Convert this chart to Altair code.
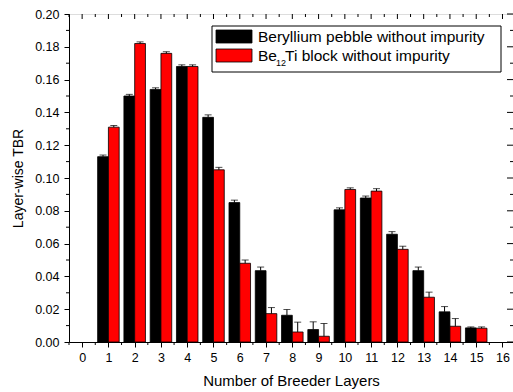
import altair as alt
import pandas as pd

# Layer-wise tritium breeding ratio per breeder layer
layers = list(range(1, 16))
pebble_tbr = [0.113, 0.150, 0.154, 0.168, 0.137, 0.085, 0.0435, 0.0163, 0.0076,
              0.0806, 0.0878, 0.0657, 0.0435, 0.0184, 0.0086]
pebble_err = [0.0010, 0.0010, 0.0010, 0.0010, 0.0015, 0.0015, 0.0022, 0.0035, 0.0047,
              0.0012, 0.0012, 0.0016, 0.0022, 0.0032, 0.0006]
block_tbr = [0.131, 0.182, 0.176, 0.168, 0.105, 0.048, 0.0173, 0.0061, 0.0035,
             0.093, 0.092, 0.0565, 0.0273, 0.0096, 0.0084]
block_err = [0.0010, 0.0010, 0.0010, 0.0010, 0.0015, 0.0020, 0.0037, 0.0060, 0.0078,
             0.0010, 0.0015, 0.0019, 0.0031, 0.0047, 0.0008]

x_ticks = list(range(0, 17))
y_ticks = [0.00, 0.02, 0.04, 0.06, 0.08, 0.10, 0.12, 0.14, 0.16, 0.18, 0.20]
x_minor = [i + 0.5 for i in range(-1, 16)]
y_minor = [round(0.01 + 0.02 * i, 2) for i in range(10)]

legend_pebble = "Beryllium pebble without impurity"
legend_block = ["Be", "12", "Ti block without impurity"]

FONT = "Liberation Sans"
BAR_W = 0.41
W, H = 444, 328

x_scale = alt.Scale(domain=[-0.5, 16.4], nice=False, zero=False)
y_scale = alt.Scale(domain=[0, 0.2], nice=False)

x_axis = alt.Axis(values=x_ticks, format="d", tickSize=5, labelFontSize=12.5,
                  labelPadding=4, labelOverlap=False,
                  title="Number of Breeder Layers", titleFontSize=15,
                  titleFontWeight="normal", titlePadding=10, grid=False,
                  labelFont=FONT, titleFont=FONT, labelColor="black",
                  titleColor="black", domainColor="black", tickColor="black",
                  labelFlush=False)
y_axis = alt.Axis(values=y_ticks, format=".2f", tickSize=5, labelFontSize=12.5,
                  labelPadding=5, labelOverlap=False,
                  title="Layer-wise TBR", titleFontSize=14,
                  titleFontWeight="normal", titlePadding=9, grid=False,
                  labelFont=FONT, titleFont=FONT, labelColor="black",
                  titleColor="black", domainColor="black", tickColor="black",
                  labelFlush=False)


def X(field):
    return alt.X(field, scale=x_scale, axis=x_axis)


def Y(field):
    return alt.Y(field, scale=y_scale, axis=y_axis)


pebble_df = pd.DataFrame({"layer": layers, "tbr": pebble_tbr, "err": pebble_err})
block_df = pd.DataFrame({"layer": layers, "tbr": block_tbr, "err": block_err})


def series_layers(df, color, left):
    base = alt.Chart(df)
    if left:
        base = base.transform_calculate(x0=f"datum.layer - {BAR_W}", x1="datum.layer")
    else:
        base = base.transform_calculate(x0="datum.layer", x1=f"datum.layer + {BAR_W}")
    base = base.transform_calculate(xc="(datum.x0 + datum.x1) / 2",
                                    top="datum.tbr + datum.err")
    bars = base.mark_bar(color=color, stroke="black", strokeWidth=0.8).encode(
        x=X("x0:Q"), x2="x1:Q", y=Y("tbr:Q"), y2=alt.datum(0))
    whisker = base.mark_rule(color="black", strokeWidth=1).encode(
        x=X("xc:Q"), y=Y("tbr:Q"), y2="top:Q")
    cap = base.mark_tick(orient="horizontal", color="black", size=7,
                         thickness=1).encode(x=X("xc:Q"), y=Y("top:Q"))
    return [bars, whisker, cap]


# Axis decorations: minor ticks outside, mirrored ticks inside on top/right
xt = pd.DataFrame({"v": x_ticks})
xm = pd.DataFrame({"v": x_minor})
yt = pd.DataFrame({"v": y_ticks})
ym = pd.DataFrame({"v": y_minor})

tick_style = dict(color="black", strokeWidth=1)
deco = [
    alt.Chart(xm).mark_rule(**tick_style).encode(
        x=X("v:Q"), y=alt.value(H), y2=alt.value(H + 3)),
    alt.Chart(ym).mark_rule(**tick_style).encode(
        y=Y("v:Q"), x=alt.value(0), x2=alt.value(-3)),
    alt.Chart(xt).mark_rule(**tick_style).encode(
        x=X("v:Q"), y=alt.value(0), y2=alt.value(5)),
    alt.Chart(xm).mark_rule(**tick_style).encode(
        x=X("v:Q"), y=alt.value(0), y2=alt.value(3)),
    alt.Chart(yt).mark_rule(**tick_style).encode(
        y=Y("v:Q"), x=alt.value(W), x2=alt.value(W - 6)),
    alt.Chart(ym).mark_rule(**tick_style).encode(
        y=Y("v:Q"), x=alt.value(W), x2=alt.value(W - 3)),
]

# Legend box
one = pd.DataFrame({"k": [0]})
lx, ly = 143, 12
legend = [
    alt.Chart(one).mark_rect(fill="white", stroke="black", strokeWidth=1).encode(
        x=alt.value(lx), x2=alt.value(lx + 289), y=alt.value(ly), y2=alt.value(ly + 46)),
    alt.Chart(one).mark_rect(fill="black", stroke="black", strokeWidth=0.8).encode(
        x=alt.value(lx + 4), x2=alt.value(lx + 40), y=alt.value(ly + 4), y2=alt.value(ly + 17)),
    alt.Chart(one).mark_rect(fill="red", stroke="black", strokeWidth=0.8).encode(
        x=alt.value(lx + 4), x2=alt.value(lx + 40), y=alt.value(ly + 23), y2=alt.value(ly + 36)),
    alt.Chart(pd.DataFrame({"t": [legend_pebble]})).mark_text(
        align="left", baseline="middle", font=FONT, fontSize=15.5, color="black").encode(
        text="t:N", x=alt.value(lx + 46), y=alt.value(ly + 11)),
    alt.Chart(pd.DataFrame({"t": [legend_block[0]]})).mark_text(
        align="left", baseline="middle", font=FONT, fontSize=15.5, color="black").encode(
        text="t:N", x=alt.value(lx + 46), y=alt.value(ly + 30)),
    alt.Chart(pd.DataFrame({"t": [legend_block[1]]})).mark_text(
        align="left", baseline="middle", font=FONT, fontSize=9, color="black").encode(
        text="t:N", x=alt.value(lx + 64), y=alt.value(ly + 37)),
    alt.Chart(pd.DataFrame({"t": [legend_block[2]]})).mark_text(
        align="left", baseline="middle", font=FONT, fontSize=15.5, color="black").encode(
        text="t:N", x=alt.value(lx + 73), y=alt.value(ly + 30)),
]

chart = alt.layer(
    *series_layers(pebble_df, "black", True),
    *series_layers(block_df, "#ff0000", False),
    *deco,
    *legend,
).properties(
    width=W, height=H,
    padding={"left": 69, "top": 14, "right": 0, "bottom": 50},
    autosize=alt.AutoSizeParams(type="none"),
).configure_view(stroke="black", strokeWidth=1).configure(background="white")

chart.save("out.html", embed_options={"renderer": "svg", "actions": False})
